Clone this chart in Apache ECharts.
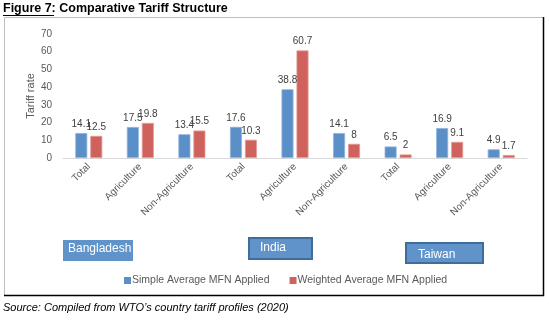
<!DOCTYPE html>
<html><head><meta charset="utf-8">
<script src="https://cdn.jsdelivr.net/npm/echarts@6/dist/echarts.min.js"></script>
<style>html,body{margin:0;padding:0;background:#fff}#c{width:549px;height:321px}</style>
</head><body><div id="c"></div>
<script>
const categories = ["Total","Agriculture","Non-Agriculture","Total","Agriculture","Non-Agriculture","Total","Agriculture","Non-Agriculture"];
const simpleAvg = [14.1,17.5,13.4,17.6,38.8,14.1,6.5,16.9,4.9];
const weightedAvg = [12.5,19.8,15.5,10.3,60.7,8,2,9.1,1.7];
const seriesNames = ["Simple Average MFN Applied","Weighted Average MFN Applied"];
const countries = ["Bangladesh","India","Taiwan"];
const yTicks = {min:0,max:70,interval:10};

const BLUE = '#5b8fc8', RED = '#cf625d';
const FONT = "'Liberation Sans', Arial, sans-serif";
const chart = echarts.init(document.getElementById('c'), null, {renderer:'canvas'});
const lbl = {show:true, position:'top', distance:4, fontSize:10, color:'#404040', fontFamily:FONT};
chart.setOption({
  animation:false,
  textStyle:{fontFamily:FONT},
  grid:{left:63, right:22, top:34, bottom:163},
  legend:{
    data:seriesNames, left:119, top:270, icon:'rect', itemWidth:7, itemHeight:7, itemGap:20,
    itemStyle:{borderWidth:0},
    textStyle:{fontSize:10.5, color:'#595959', fontFamily:FONT, padding:[0,0,0,-4]}
  },
  xAxis:{
    type:'category', data:categories,
    axisLine:{lineStyle:{color:'#d9d9d9'}}, axisTick:{show:false},
    axisLabel:{rotate:45, interval:0, fontSize:10, color:'#595959', margin:7, fontFamily:FONT}
  },
  yAxis:{
    type:'value', min:yTicks.min, max:yTicks.max, interval:yTicks.interval,
    name:'Tariff rate', nameLocation:'middle', nameGap:27, nameMoveOverlap:false,
    nameTextStyle:{fontSize:11, color:'#595959', fontFamily:FONT},
    axisLine:{show:false}, axisTick:{show:false}, splitLine:{show:false},
    axisLabel:{fontSize:10, color:'#595959', margin:11, fontFamily:FONT}
  },
  series:[
    {name:seriesNames[0], type:'bar', data:simpleAvg, barWidth:12, barGap:'25%',
     itemStyle:{color:BLUE, borderColor:'#8fb4dc', borderWidth:0.8}, label:lbl},
    {name:seriesNames[1], type:'bar', data:weightedAvg, barWidth:12,
     itemStyle:{color:RED, borderColor:'#e59a97', borderWidth:0.8}, label:lbl}
  ],
  graphic:[
    {type:'rect', shape:{x:4.5,y:17.5,width:539,height:278}, style:{fill:'none', stroke:'#bfbfbf', lineWidth:1}, silent:true, z:-1},
    {type:'polyline', shape:{points:[[543.5,17],[543.5,295.5],[4,295.5]]}, style:{fill:'none', stroke:'#000', lineWidth:1.5}, silent:true},
    {type:'text', left:3, top:2, style:{text:'Figure 7: Comparative Tariff Structure', font:"bold 12.5px "+FONT, fill:'#000'}},
    {type:'line', shape:{x1:3,y1:15.5,x2:54,y2:15.5}, style:{stroke:'#000', lineWidth:1}},
    {type:'text', left:3, top:302, style:{text:'Source: Compiled from WTO\u2019s country tariff profiles (2020)', font:"italic 11px "+FONT, fill:'#000'}},
    {type:'rect', shape:{x:63,y:240,width:70,height:21}, style:{fill:'#5f93ca'}},
    {type:'text', left:68, top:243, style:{text:countries[0], font:"12px "+FONT, fill:'#fff'}},
    {type:'rect', shape:{x:249,y:238,width:63,height:21}, style:{fill:'#5f93ca', stroke:'#3f6d9b', lineWidth:2}},
    {type:'text', left:260, top:242, style:{text:countries[1], font:"12px "+FONT, fill:'#fff'}},
    {type:'rect', shape:{x:406,y:243,width:77,height:20}, style:{fill:'#5f93ca', stroke:'#3f6d9b', lineWidth:2}},
    {type:'text', left:418, top:249, style:{text:countries[2], font:"12px "+FONT, fill:'#fff'}}
  ]
});
</script></body></html>
